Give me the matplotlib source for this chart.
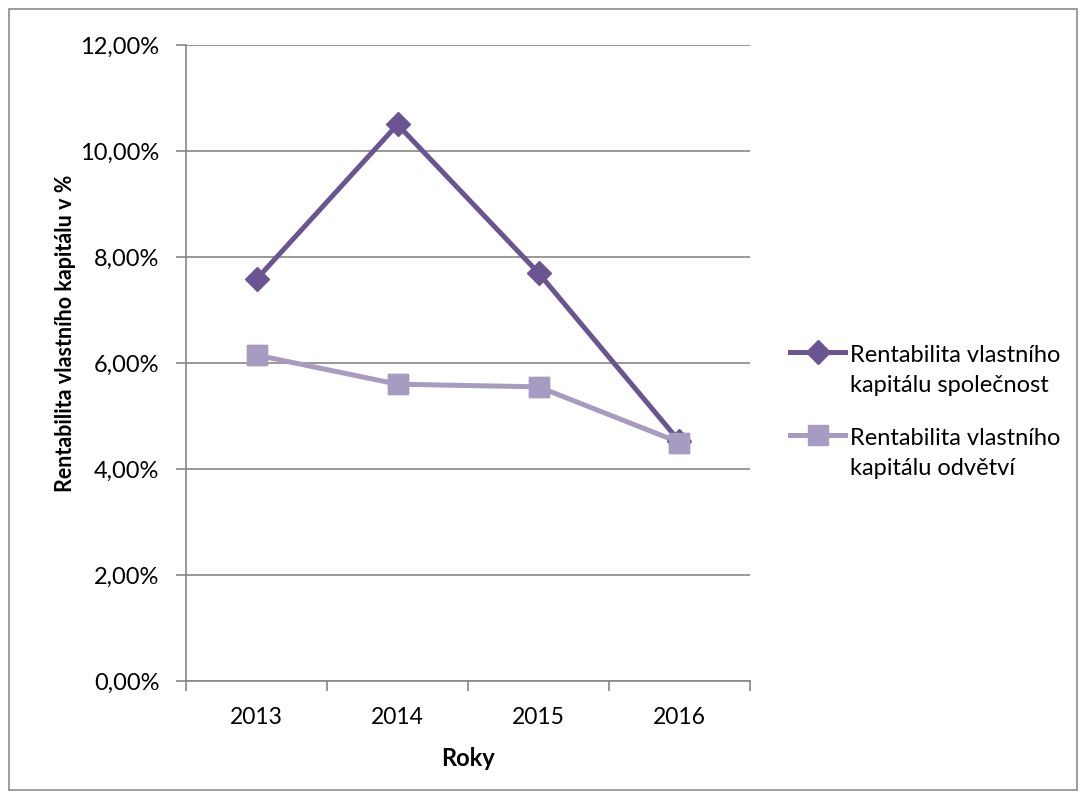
import matplotlib
matplotlib.use("Agg")
import matplotlib.pyplot as plt
from matplotlib.ticker import FuncFormatter, FixedLocator
from matplotlib.patches import Rectangle
from matplotlib.legend_handler import HandlerLine2D

years = ["2013", "2014", "2015", "2016"]
spolecnost = [7.58, 10.50, 7.70, 4.52]
odvetvi = [6.15, 5.60, 5.55, 4.50]
labels = ["Rentabilita vlastního\nkapitálu společnost", "Rentabilita vlastního\nkapitálu odvětví"]

plt.rcParams['font.family'] = ['Lato', 'DejaVu Sans']

fig = plt.figure(figsize=(10.85, 7.99), dpi=100)
ax = fig.add_axes([186/1085, 118/799, (750-186)/1085, (681-45)/799])

x = list(range(len(years)))
c1 = "#6A5592"
c2 = "#A89BC2"
ax.plot(x, spolecnost, color=c1, lw=3.6, marker="D", ms=12, mec=c1, mfc=c1, zorder=3,
        label=labels[0])
ax.plot(x, odvetvi, color=c2, lw=3.6, marker="s", ms=14, mec=c2, mfc=c2, zorder=2,
        label=labels[1])
# markers of the second series are drawn above the first series (as in the original)
ax.plot(x, odvetvi, ls="none", marker="s", ms=14, mec=c2, mfc=c2, zorder=4)

ax.set_xlim(-0.5, 3.5)
ax.set_ylim(0, 12)
ax.set_yticks([0, 2, 4, 6, 8, 10, 12])
ax.yaxis.set_major_formatter(FuncFormatter(lambda v, p: f"{v:.2f}%".replace(".", ",")))
ax.set_xticks(x)
ax.set_xticklabels(years)
ax.xaxis.set_minor_locator(FixedLocator([-0.5, 0.5, 1.5, 2.5, 3.5]))
ax.tick_params(axis="x", which="major", length=0, labelsize=16.5, pad=19)
ax.tick_params(axis="x", which="minor", length=7, color="#868686", width=1.2)
ax.tick_params(axis="y", length=7, color="#868686", width=1.2, labelsize=17, pad=12)

ax.grid(axis="y", color="#868686", lw=1.2)
ax.set_axisbelow(True)
for s in ["top", "right"]:
    ax.spines[s].set_visible(False)
for s in ["left", "bottom"]:
    ax.spines[s].set_color("#868686")
    ax.spines[s].set_linewidth(1.2)

ax.set_xlabel("Roky", fontsize=17, fontweight="bold", labelpad=13.5)
ax.set_ylabel("Rentabilita vlastního kapitálu v %", fontsize=15.5, fontweight="bold")
ax.yaxis.set_label_coords(-0.195, 0.546)


class ShiftHandler(HandlerLine2D):
    def create_artists(self, legend, orig_handle, xdescent, ydescent, width, height, fontsize, trans):
        arts = super().create_artists(legend, orig_handle, xdescent, ydescent, width, height, fontsize, trans)
        dy = fontsize * 0.81
        for a in arts:
            xd, yd = a.get_data()
            a.set_data(xd, [v + dy for v in yd])
        return arts


leg = fig.legend(loc="upper left", bbox_to_anchor=(781/1085, 1 - 336/799), frameon=False,
                 fontsize=17, handlelength=2.33, handletextpad=0.2, labelspacing=1.35,
                 borderaxespad=0, handler_map={matplotlib.lines.Line2D: ShiftHandler()})
for t in leg.get_texts():
    t.set_linespacing(1.53)

fig.patches.append(Rectangle((9/1085, 9/799), (1077-9)/1085, (790-9)/799, transform=fig.transFigure,
                             fill=False, ec="#8c8c8c", lw=1.2))

fig.savefig("out.png", dpi=100)
